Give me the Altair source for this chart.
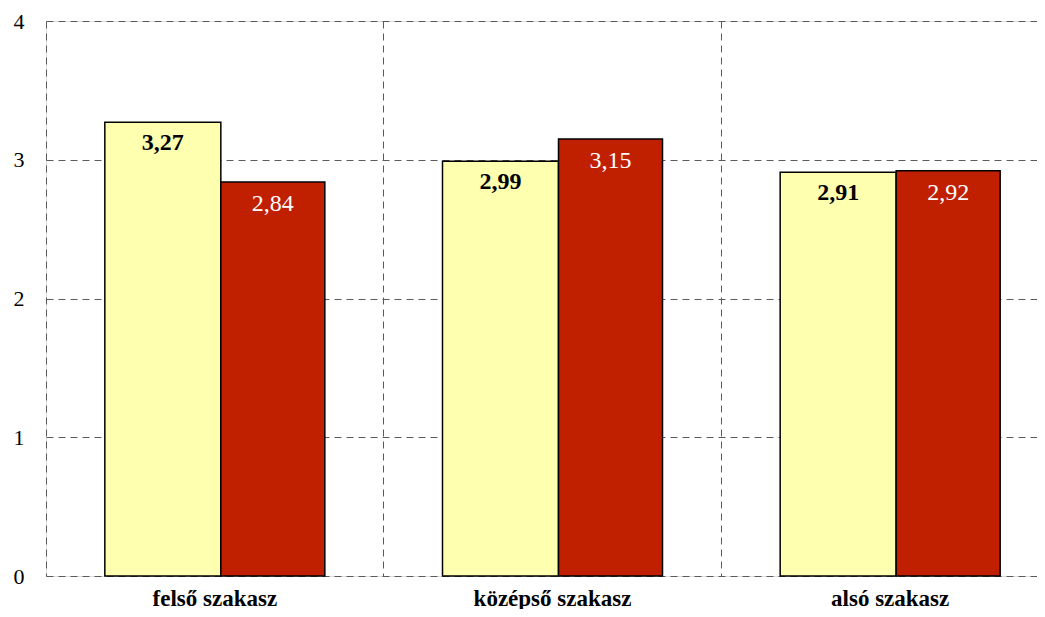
import altair as alt
import pandas as pd

categories = ["felső szakasz", "középső szakasz", "alsó szakasz"]
series_a = [3.27, 2.99, 2.91]
series_b = [2.84, 3.15, 2.92]
y_ticks = [0, 1, 2, 3, 4]

df_a = pd.DataFrame({"cat": categories, "value": series_a,
                     "label": [f"{v:.2f}".replace(".", ",") for v in series_a]})
df_b = pd.DataFrame({"cat": categories, "value": series_b,
                     "label": [f"{v:.2f}".replace(".", ",") for v in series_b]})

FONT = "Liberation Serif"
GRID = "#5a5a5a"

x = alt.X("cat:N", sort=categories, title=None,
          scale=alt.Scale(paddingInner=0, paddingOuter=0, range=[0, 1013]),
          axis=alt.Axis(domain=False, ticks=False, labelAngle=0, labelFont=FONT,
                        labelFontSize=23, labelFontWeight="bold", labelColor="#000000",
                        labelPadding=11, grid=True, gridColor=GRID, gridDash=[7, 5],
                        gridWidth=1, gridOpacity=1, bandPosition=0))
y = alt.Y("value:Q", title=None,
          scale=alt.Scale(domain=[0, 4], nice=False),
          axis=alt.Axis(values=y_ticks, domain=False, ticks=False,
                        labelFont=FONT, labelFontSize=22, labelColor="#000000",
                        labelPadding=22, grid=True, gridColor=GRID, gridDash=[7, 5],
                        gridWidth=1, gridOpacity=1, format="d"))

bars_a = alt.Chart(df_a).mark_bar(width=116, xOffset=-52, color="#FFFFB0",
                                  stroke="#000000", strokeWidth=1.5).encode(x=x, y=y)
bars_b = alt.Chart(df_b).mark_bar(width=104, xOffset=58, color="#C02000",
                                  stroke="#000000", strokeWidth=1.5).encode(x=x, y=y)
text_a = alt.Chart(df_a).mark_text(xOffset=-52, dy=21, baseline="middle", font=FONT,
                                   fontSize=24, fontWeight="bold", color="#000000").encode(
    x=x, y=y, text="label:N")
text_b = alt.Chart(df_b).mark_text(xOffset=58, dy=22, baseline="middle", font=FONT,
                                   fontSize=24, color="#ffffff").encode(
    x=x, y=y, text="label:N")

chart = alt.layer(bars_a, bars_b, text_a, text_b).properties(
    width=991, height=555,
    autosize=alt.AutoSizeParams(type="none"),
    padding={"left": 38, "top": 13, "right": 0, "bottom": 33},
).configure_view(stroke=None).configure(background="#ffffff")

chart.save("out.html", embed_options={"renderer": "svg", "actions": False})
